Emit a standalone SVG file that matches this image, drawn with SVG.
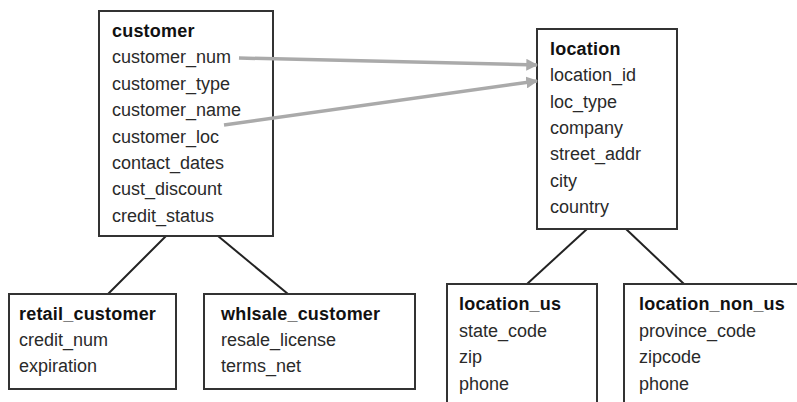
<svg xmlns="http://www.w3.org/2000/svg" width="797" height="402" viewBox="0 0 797 402">
<defs>
<style>
.box{fill:#fff;stroke:#333;stroke-width:2}
text{font-family:"Liberation Sans",Arial,sans-serif;font-size:18px;fill:#2a2a2a}
.t{font-weight:bold;letter-spacing:0.2px;fill:#111}
.ln{stroke:#222;stroke-width:2;fill:none}
.ar{stroke:#aaa;stroke-width:3.5;fill:none;marker-end:url(#ah)}
</style>
<marker id="ah" viewBox="0 0 10 10" refX="9" refY="5" markerWidth="3.4" markerHeight="3.4" orient="auto" markerUnits="strokeWidth">
<path d="M0,0 L10,5 L0,10 Z" fill="#aaa"/>
</marker>
</defs>
<rect width="797" height="402" fill="#fff"/>
<g id="connectors">
<line class="ln" x1="166" y1="236" x2="108" y2="294"/>
<line class="ln" x1="218" y1="236" x2="288" y2="294"/>
<line class="ln" x1="587" y1="229" x2="527" y2="284"/>
<line class="ln" x1="626" y1="229" x2="684" y2="284"/>
</g>
<g id="customer">
<rect class="box" x="99" y="11" width="174" height="225"/>
<text class="t" x="112" y="37">customer</text>
<text x="112" y="63.4">customer_num</text>
<text x="112" y="89.8">customer_type</text>
<text x="112" y="116.2">customer_name</text>
<text x="112" y="142.6">customer_loc</text>
<text x="112" y="169">contact_dates</text>
<text x="112" y="195.4">cust_discount</text>
<text x="112" y="221.8">credit_status</text>
</g>
<g id="location">
<rect class="box" x="537" y="29" width="140" height="200"/>
<text class="t" x="550" y="55">location</text>
<text x="550" y="81.3">location_id</text>
<text x="550" y="107.6">loc_type</text>
<text x="550" y="133.9">company</text>
<text x="550" y="160.2">street_addr</text>
<text x="550" y="186.5">city</text>
<text x="550" y="212.8">country</text>
</g>
<g id="retail_customer">
<rect class="box" x="9" y="294" width="167" height="95"/>
<text class="t" x="19" y="319.5">retail_customer</text>
<text x="19" y="345.8">credit_num</text>
<text x="19" y="372">expiration</text>
</g>
<g id="whlsale_customer">
<rect class="box" x="204" y="294" width="211" height="95"/>
<text class="t" x="221" y="319.5">whlsale_customer</text>
<text x="221" y="345.8">resale_license</text>
<text x="221" y="372">terms_net</text>
</g>
<g id="location_us">
<rect class="box" x="447" y="284" width="150" height="130"/>
<text class="t" x="459" y="310">location_us</text>
<text x="459" y="336.5">state_code</text>
<text x="459" y="363">zip</text>
<text x="459" y="389.5">phone</text>
</g>
<g id="location_non_us">
<rect class="box" x="624" y="284" width="190" height="130"/>
<text class="t" x="639" y="310">location_non_us</text>
<text x="639" y="336.5">province_code</text>
<text x="639" y="363">zipcode</text>
<text x="639" y="389.5">phone</text>
</g>
<g id="arrows">
<line class="ar" x1="239" y1="58" x2="537" y2="65"/>
<line class="ar" x1="224" y1="125" x2="537" y2="81"/>
</g>
</svg>
